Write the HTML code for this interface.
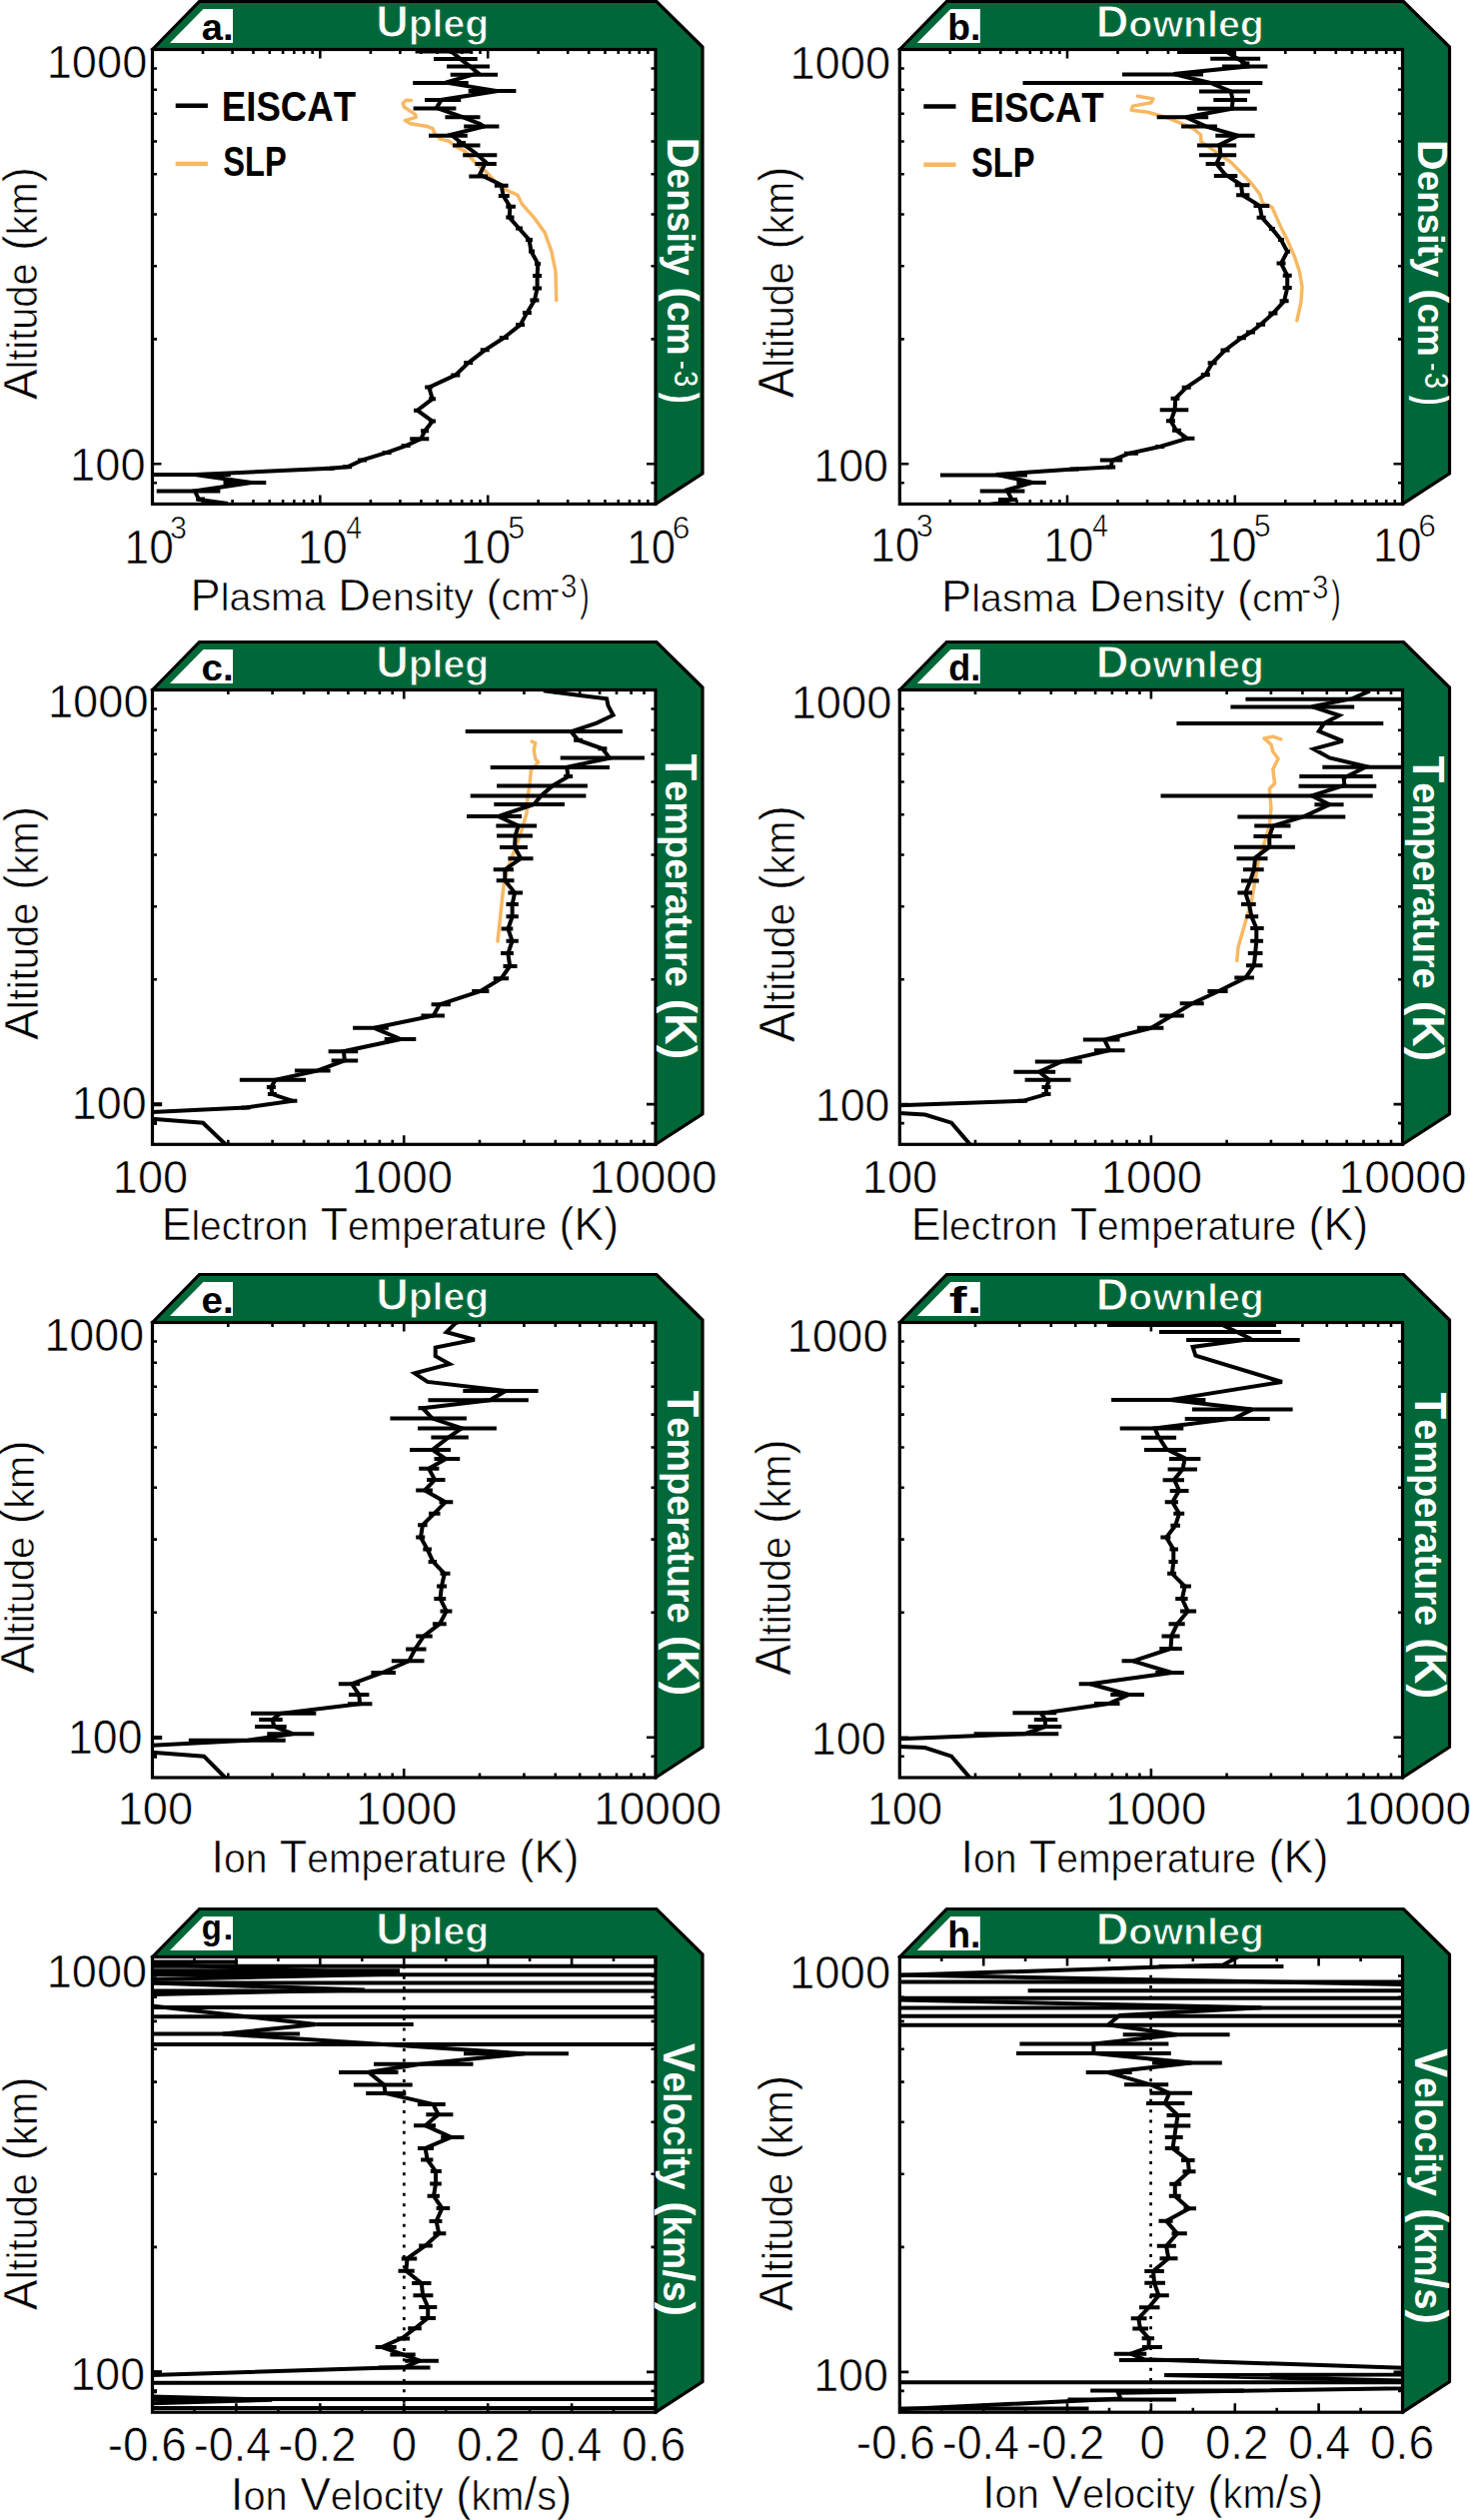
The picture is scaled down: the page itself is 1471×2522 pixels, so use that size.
<!DOCTYPE html>
<html><head><meta charset="utf-8"><style>
html,body{margin:0;padding:0;background:#fff;overflow:hidden;width:1471px;height:2522px;}
svg{display:block;}
text{font-family:"Liberation Sans",sans-serif;font-kerning:none;}
</style></head><body>
<svg width="1471" height="2522" viewBox="0 0 1471 2522">
<rect width="1471" height="2522" fill="#fff"/>
<polygon points="152.5,49.5 199.5,1.5 657.0,1.5 703.0,47.0 703.0,473.9 656.0,504.4" fill="#006838" stroke="#000" stroke-width="3.2" stroke-linejoin="miter"/>
<polygon points="170.0,43.0 203.5,9.0 233.0,9.0 233.0,43.0" fill="#fff"/>
<rect x="152.5" y="49.5" width="503.5" height="454.9" fill="#fff"/>
<polygon points="900.3,49.5 947.3,1.5 1404.5,1.5 1450.5,47.0 1450.5,473.9 1403.5,504.4" fill="#006838" stroke="#000" stroke-width="3.2" stroke-linejoin="miter"/>
<polygon points="917.8,43.0 951.3,9.0 980.8,9.0 980.8,43.0" fill="#fff"/>
<rect x="900.3" y="49.5" width="503.2" height="454.9" fill="#fff"/>
<polygon points="152.5,690.5 199.5,642.5 657.0,642.5 703.0,688.0 703.0,1114.8 656.0,1145.3" fill="#006838" stroke="#000" stroke-width="3.2" stroke-linejoin="miter"/>
<polygon points="170.0,684.0 203.5,650.0 233.0,650.0 233.0,684.0" fill="#fff"/>
<rect x="152.5" y="690.5" width="503.5" height="454.8" fill="#fff"/>
<polygon points="900.3,690.5 947.3,642.5 1404.5,642.5 1450.5,688.0 1450.5,1114.8 1403.5,1145.3" fill="#006838" stroke="#000" stroke-width="3.2" stroke-linejoin="miter"/>
<polygon points="917.8,684.0 951.3,650.0 980.8,650.0 980.8,684.0" fill="#fff"/>
<rect x="900.3" y="690.5" width="503.2" height="454.8" fill="#fff"/>
<polygon points="152.5,1323.5 199.5,1275.5 657.0,1275.5 703.0,1321.0 703.0,1748.5 656.0,1779.0" fill="#006838" stroke="#000" stroke-width="3.2" stroke-linejoin="miter"/>
<polygon points="170.0,1317.0 203.5,1283.0 233.0,1283.0 233.0,1317.0" fill="#fff"/>
<rect x="152.5" y="1323.5" width="503.5" height="455.5" fill="#fff"/>
<polygon points="900.3,1323.5 947.3,1275.5 1404.5,1275.5 1450.5,1321.0 1450.5,1748.5 1403.5,1779.0" fill="#006838" stroke="#000" stroke-width="3.2" stroke-linejoin="miter"/>
<polygon points="917.8,1317.0 951.3,1283.0 980.8,1283.0 980.8,1317.0" fill="#fff"/>
<rect x="900.3" y="1323.5" width="503.2" height="455.5" fill="#fff"/>
<polygon points="152.5,1958.5 199.5,1910.5 657.0,1910.5 703.0,1956.0 703.0,2383.7 656.0,2414.2" fill="#006838" stroke="#000" stroke-width="3.2" stroke-linejoin="miter"/>
<polygon points="170.0,1952.0 203.5,1918.0 233.0,1918.0 233.0,1952.0" fill="#fff"/>
<rect x="152.5" y="1958.5" width="503.5" height="455.7" fill="#fff"/>
<polygon points="900.3,1958.5 947.3,1910.5 1404.5,1910.5 1450.5,1956.0 1450.5,2383.7 1403.5,2414.2" fill="#006838" stroke="#000" stroke-width="3.2" stroke-linejoin="miter"/>
<polygon points="917.8,1952.0 951.3,1918.0 980.8,1918.0 980.8,1952.0" fill="#fff"/>
<rect x="900.3" y="1958.5" width="503.2" height="455.7" fill="#fff"/>
<clipPath id="cp00"><rect x="152.5" y="49.5" width="503.5" height="454.9"/></clipPath>
<g clip-path="url(#cp00)">
<path d="M411.3 100.4L406.4 100.2L403.2 103.2L404.3 107.0L415.7 114.6L416.2 117.3L405.3 120.6L410.8 123.8L427.7 126.6L433.1 128.7L434.7 133.1L440.2 139.1L449.4 141.3L454.3 145.6L465.7 151.6L475.9 163.4L486.1 171.5L493.4 179.5L507.0 190.4L517.9 195.2L522.7 204.7L534.2 217.6L545.1 232.6L551.9 251.6L556.0 272.0L556.7 300.6" stroke="#F7B862" stroke-width="3.5" fill="none" stroke-linejoin="round" stroke-linecap="round"/>
<path d="M457.1 143.0H466.1M533.1 276.1H542.1M533.1 288.4H542.1M530.4 300.6H539.4M522.9 312.9H531.9M516.1 325.1H525.1M499.8 338.0H508.8M480.7 350.3H489.7M464.2 363.1H473.2M451.3 375.4H460.3M401.6 446.1H410.6M382.6 452.9H391.6M358.1 460.4H367.1M343.1 467.2H352.1M325.5 468.8H334.5" stroke="#000" stroke-width="4.0" fill="none"/>
<path d="M415.6 51.5H472.8M434.0 58.9H477.7M447.0 66.4H490.0M450.7 74.8H498.1M413.2 83.0H468.7M468.7 91.1H516.4M425.0 99.9H461.3M413.6 108.5H456.4M445.4 117.2H480.5M464.2 126.6H499.4M429.0 135.8H467.8M453.0 145.5H480.5M463.2 155.2H497.3M475.4 163.9H496.8M469.3 176.6H488.0M494.8 185.8H508.6M498.8 195.9H509.7M506.3 206.7H515.9M506.3 217.6H514.5M516.0 228.5H523.0M526.0 240.0H533.0M529.0 251.6H535.0M535.0 263.9H541.0M425.2 387.6H432.7M429.0 399.2H436.0M414.0 410.7H421.0M429.0 421.6H436.0M421.0 431.2H429.0M410.2 439.3H429.3M153.7 474.9H230.8M223.5 482.9H266.3M156.7 491.4H220.4M196.0 499.5H205.0" stroke="#000" stroke-width="4.0" fill="none"/>
<path d="M453.0 49.5L451.5 51.5L460.5 58.9L470.3 66.4L478.5 73.2L445.8 82.6L498.1 91.1L441.7 99.9L436.8 107.9L462.1 116.8L480.9 124.2L484.1 126.6L451.4 134.8L461.6 143.0L475.9 153.2L486.1 162.3L480.0 174.6L501.6 185.0L503.6 195.9L510.4 206.7L509.7 217.6L519.3 228.5L529.5 240.0L531.5 251.6L538.3 263.9L537.6 276.1L537.6 288.4L534.9 300.6L527.4 312.9L520.6 325.1L504.3 338.0L485.2 350.3L468.7 363.1L455.8 375.4L429.3 387.6L432.7 399.2L417.7 410.7L432.7 421.6L425.2 431.2L421.1 439.3L406.1 446.1L387.1 452.9L362.6 460.4L347.6 467.2L330.0 468.8L195.0 474.9L251.6 482.9L195.0 491.4L199.0 500.0L228.0 504.0" stroke="#000" stroke-width="4.0" fill="none" stroke-linejoin="miter" stroke-miterlimit="3"/>
</g>
<clipPath id="cp10"><rect x="900.3" y="49.5" width="503.2" height="454.9"/></clipPath>
<g clip-path="url(#cp10)">
<path d="M1138.4 96.2L1154.0 98.9L1152.0 102.7L1133.6 106.1L1132.2 110.2L1148.6 112.2L1167.6 117.7L1181.2 123.1L1194.8 129.2L1201.6 135.0L1202.0 141.9L1211.2 148.1L1231.6 162.3L1246.9 177.7L1253.5 185.0L1260.6 194.2L1263.7 203.4L1272.9 207.4L1282.0 227.9L1288.2 240.1L1295.3 256.4L1300.4 271.7L1303.0 287.0L1301.9 302.3L1297.9 320.7" stroke="#F7B862" stroke-width="3.5" fill="none" stroke-linejoin="round" stroke-linecap="round"/>
<path d="M1241.4 63.4H1250.4M1277.5 263.6H1286.5M1283.7 275.8H1292.7M1283.7 288.1H1292.7M1280.6 301.3H1289.6M1269.4 313.6H1278.4M1257.1 324.8H1266.1M1247.0 332.5H1256.0M1237.8 338.2H1246.8M1221.5 350.4H1230.5M1208.6 363.3H1217.6M1201.8 374.9H1210.8M1182.7 387.8H1191.7M1156.2 447.0H1165.2M1107.2 467.4H1116.2M1070.5 469.4H1079.5" stroke="#000" stroke-width="4.0" fill="none"/>
<path d="M1178.0 52.0H1235.0M1211.2 58.8H1261.2M1223.0 66.6H1268.4M1123.0 74.5H1204.1M1023.5 83.1H1263.3M1200.0 91.4H1251.0M1214.3 100.1H1248.0M1198.0 108.8H1257.7M1157.7 117.2H1209.2M1182.1 126.6H1217.9M1216.3 135.8H1255.6M1198.0 145.5H1237.2M1200.0 155.2H1237.2M1206.6 163.9H1225.5M1214.8 176.1H1238.3M1235.7 185.3H1250.5M1237.1 195.2H1250.4M1254.5 205.9H1270.3M1257.6 217.7H1266.7M1270.0 228.9H1276.0M1279.0 240.1H1285.0M1286.0 251.8H1291.0M1171.6 398.7H1180.4M1160.7 410.3H1189.3M1167.0 421.2H1176.0M1173.0 430.7H1182.0M1182.4 438.8H1195.4M1125.0 453.8H1139.0M1100.8 460.6H1123.3M940.9 475.5H1027.9M1017.4 482.9H1046.8M980.7 491.4H1025.4M999.0 500.0H1018.0" stroke="#000" stroke-width="4.0" fill="none"/>
<path d="M1225.0 49.5L1225.5 50.6L1245.9 63.4L1248.0 66.6L1174.5 74.1L1211.2 83.0L1231.6 91.4L1233.7 100.1L1232.7 108.8L1186.7 117.2L1207.1 126.6L1238.8 135.8L1220.4 144.9L1221.4 155.2L1217.3 163.9L1225.5 174.1L1242.0 185.0L1243.3 195.2L1260.6 205.9L1262.7 217.7L1272.9 228.9L1282.0 240.1L1288.2 251.8L1282.0 263.6L1288.2 275.8L1288.2 288.1L1285.1 301.3L1273.9 313.6L1261.6 324.8L1251.5 332.5L1242.3 338.2L1226.0 350.4L1213.1 363.3L1206.3 374.9L1187.2 387.8L1176.3 398.7L1175.6 410.3L1171.6 421.2L1177.0 430.7L1187.9 438.8L1160.7 447.0L1129.4 453.8L1113.1 460.6L1111.7 467.4L1075.0 469.4L996.6 474.9L1033.4 482.9L1007.6 490.2L1012.5 500.0L999.0 503.7L990.0 505.0" stroke="#000" stroke-width="4.0" fill="none" stroke-linejoin="miter" stroke-miterlimit="3"/>
</g>
<clipPath id="cp01"><rect x="152.5" y="690.5" width="503.5" height="454.8"/></clipPath>
<g clip-path="url(#cp01)">
<path d="M532.1 742.1L535.7 743.6L534.3 750.7L535.7 759.3L538.6 762.9L531.4 770.7L530.0 785.0L527.9 799.3L527.1 813.6L522.9 827.9L519.0 840.0L515.0 851.0L512.0 858.0L507.0 872.0L504.0 886.0L498.0 942.0" stroke="#F7B862" stroke-width="3.5" fill="none" stroke-linejoin="round" stroke-linecap="round"/>
<path d="M574.1 740.7H583.1M598.4 749.3H607.4M564.1 777.1H573.1M266.9 1088.0H275.9M267.9 1095.1H276.9M288.4 1101.8H297.4M241.4 1108.4H250.4" stroke="#000" stroke-width="4.0" fill="none"/>
<path d="M465.7 732.1H622.9M560.7 758.6H645.0M490.7 767.9H610.0M497.1 786.4H587.9M470.7 796.4H586.4M494.3 805.0H565.0M467.1 817.1H522.1M496.4 826.4H537.1M497.1 836.4H532.9M500.0 847.9H527.9M508.4 859.2H533.5M493.7 870.2H513.9M496.7 881.2H514.5M508.4 893.5H523.1M506.5 905.1H518.8M506.5 917.3H518.8M501.6 929.6H513.3M506.5 941.8H518.8M501.0 954.1H513.9M503.5 966.9H517.5M493.7 979.2H509.0M472.2 992.0H489.4M431.6 1005.3H450.8M421.4 1016.5H444.9M353.1 1028.8H388.8M384.7 1040.0H416.3M328.6 1052.2H358.2M331.6 1061.4H358.2M294.9 1071.6H330.6M239.8 1080.8H306.1M150.0 1105.3H162.2M150.0 1123.7H157.0" stroke="#000" stroke-width="4.0" fill="none"/>
<path d="M545.7 690.5L545.7 691.4L578.6 695.7L607.1 699.3L608.6 706.4L613.6 715.7L597.1 723.6L571.4 732.1L578.6 740.7L602.9 749.3L610.0 758.6L567.1 767.9L568.6 777.1L552.9 786.4L541.4 796.4L534.3 805.0L498.6 817.1L518.6 826.4L515.7 836.4L515.0 847.9L521.2 859.2L505.3 870.2L505.3 881.2L515.1 893.5L512.6 905.1L512.6 917.3L508.4 929.6L512.6 941.8L508.4 954.1L510.2 966.9L501.6 979.2L480.8 992.0L439.8 1005.3L433.7 1016.5L374.5 1028.8L401.0 1040.0L343.9 1052.2L344.9 1061.4L317.3 1071.6L275.5 1080.8L271.4 1088.0L272.4 1095.1L292.9 1101.8L245.9 1108.4L130.0 1114.0L130.0 1118.0L203.1 1123.7L225.5 1145.1L228.0 1148.0" stroke="#000" stroke-width="4.0" fill="none" stroke-linejoin="miter" stroke-miterlimit="3"/>
</g>
<clipPath id="cp11"><rect x="900.3" y="690.5" width="503.2" height="454.8"/></clipPath>
<g clip-path="url(#cp11)">
<path d="M1281.8 739.8L1273.8 737.2L1265.0 738.9L1272.0 745.1L1273.8 752.2L1279.1 759.3L1273.8 769.9L1275.6 784.0L1270.3 789.4L1272.0 808.8L1270.3 826.5L1265.0 844.2L1259.5 858.0L1259.2 862.2L1256.1 880.6L1252.4 901.4L1247.5 918.6L1242.6 935.7L1239.0 948.0L1237.8 961.4" stroke="#F7B862" stroke-width="3.5" fill="none" stroke-linejoin="round" stroke-linecap="round"/>
<path d="M1042.5 1088.0H1051.5M1042.5 1095.1H1051.5M1019.1 1101.8H1028.1" stroke="#000" stroke-width="4.0" fill="none"/>
<path d="M1246.4 699.7H1402.9M1231.4 707.6H1355.2M1177.4 723.9H1384.3M1323.3 767.8H1402.9M1300.3 777.0H1373.7M1299.5 786.7H1377.3M1161.5 796.4H1373.7M1315.4 805.3H1344.6M1238.4 817.6H1346.3M1255.2 826.5H1291.5M1254.4 837.1H1282.7M1234.9 847.7H1295.9M1237.5 859.2H1268.5M1243.9 870.2H1264.7M1242.0 881.6H1259.8M1238.4 893.5H1253.1M1242.0 905.1H1256.7M1246.3 917.3H1259.2M1251.2 929.0H1264.7M1251.2 941.8H1264.1M1248.8 954.1H1263.5M1246.9 966.3H1263.5M1235.3 978.6H1254.9M1208.4 992.0H1228.6M1180.7 1004.3H1204.7M1160.3 1016.5H1184.8M1137.9 1028.8H1164.4M1083.8 1040.6H1120.5M1095.0 1051.2H1125.6M1035.8 1062.4H1082.8M1014.4 1072.7H1056.2M1025.6 1080.8H1071.5" stroke="#000" stroke-width="4.0" fill="none"/>
<path d="M1369.3 690.5L1369.3 692.1L1353.4 699.1L1312.7 707.1L1340.1 716.0L1325.1 723.9L1319.8 731.9L1343.7 741.6L1314.5 749.6L1330.4 758.4L1367.5 767.2L1344.6 778.7L1345.4 785.8L1312.7 796.4L1330.4 805.3L1305.6 816.8L1273.8 826.5L1270.3 837.1L1270.3 847.7L1256.1 858.3L1254.9 870.2L1251.2 881.6L1246.3 893.5L1250.0 905.1L1252.4 917.3L1257.3 929.0L1257.3 941.8L1256.1 954.1L1254.9 966.3L1246.3 978.6L1219.4 992.0L1193.0 1004.3L1172.6 1016.5L1152.1 1028.8L1105.2 1040.6L1110.3 1051.2L1062.3 1062.4L1039.9 1072.7L1050.1 1080.8L1047.0 1088.0L1047.0 1095.1L1023.6 1101.8L880.0 1107.0L880.0 1113.0L925.6 1115.5L952.1 1123.7L970.5 1145.1L973.0 1148.0" stroke="#000" stroke-width="4.0" fill="none" stroke-linejoin="miter" stroke-miterlimit="3"/>
</g>
<clipPath id="cp02"><rect x="152.5" y="1323.5" width="503.5" height="455.5"/></clipPath>
<g clip-path="url(#cp02)">
<path d="M418.4 1409.2H427.4M267.9 1738.3H276.9" stroke="#000" stroke-width="4.0" fill="none"/>
<path d="M463.3 1392.1H538.6M428.4 1401.3H528.8M390.4 1419.6H466.9M418.0 1429.4H496.9M431.4 1438.6H468.8M410.0 1450.9H451.0M434.5 1460.0H460.2M419.2 1469.8H439.4M427.1 1480.9H445.5M416.2 1491.6H432.9M439.5 1503.3H453.3M429.0 1514.8H440.5M418.1 1526.2H427.6M416.2 1538.6H425.2M423.3 1550.5H431.9M428.6 1562.9H437.1M440.5 1574.8H450.5M437.1 1587.6H447.1M434.3 1600.0H446.2M440.5 1612.4H452.4M432.9 1625.2H446.7M416.2 1637.4H432.7M406.1 1650.5H426.5M391.8 1662.3H424.5M371.4 1674.0H395.9M338.8 1685.2H360.2M349.0 1696.0H369.4M348.0 1705.2H372.4M251.0 1714.8H316.3M259.2 1720.9H282.7M255.1 1728.1H286.7M267.3 1735.2H314.3M188.8 1741.7H285.7M150.0 1738.9H162.2M150.0 1757.7H157.0" stroke="#000" stroke-width="4.0" fill="none"/>
<path d="M458.0 1323.5L455.9 1324.1L446.7 1333.3L474.9 1340.7L435.7 1348.6L435.7 1357.2L449.8 1365.1L414.9 1374.3L427.8 1382.9L506.1 1392.1L490.2 1401.3L422.9 1409.2L432.7 1419.6L462.0 1429.4L448.6 1438.6L432.7 1450.9L446.1 1460.0L429.0 1469.8L435.1 1480.9L425.0 1491.6L445.7 1503.3L434.3 1514.8L422.9 1526.2L421.0 1538.6L427.6 1550.5L433.3 1562.9L444.8 1574.8L441.9 1587.6L440.5 1600.0L446.7 1612.4L440.0 1625.2L424.0 1637.4L415.3 1650.5L409.2 1662.3L382.7 1674.0L352.0 1685.2L359.2 1696.0L360.2 1705.2L280.6 1714.8L272.4 1720.9L274.5 1728.1L292.9 1735.2L272.4 1738.3L248.0 1741.7L130.0 1748.0L130.0 1752.0L204.1 1757.7L225.5 1779.1L228.0 1782.0" stroke="#000" stroke-width="4.0" fill="none" stroke-linejoin="miter" stroke-miterlimit="3"/>
</g>
<clipPath id="cp12"><rect x="900.3" y="1323.5" width="503.2" height="455.5"/></clipPath>
<g clip-path="url(#cp12)">
<path d="M1108.0 1326.0H1277.0M1160.0 1333.0H1282.1M1187.1 1340.9H1300.7M1112.1 1400.9H1206.4M1192.9 1410.6H1293.6M1185.7 1419.9H1270.7M1120.7 1429.4H1184.3M1142.1 1438.7H1177.1M1145.0 1450.9H1187.1M1170.0 1459.9H1201.4M1168.6 1470.6H1197.9M1163.6 1481.3H1185.0M1170.7 1491.9H1189.5M1165.7 1503.3H1179.0M1174.3 1514.8H1185.2M1171.4 1526.7H1181.0M1161.4 1538.6H1171.4M1170.5 1550.5H1179.0M1169.5 1562.9H1178.6M1168.1 1574.8H1177.1M1181.0 1587.6H1191.9M1176.2 1600.0H1188.6M1181.0 1612.4H1197.1M1169.5 1625.2H1185.7M1162.5 1637.4H1180.6M1160.3 1649.9H1182.8M1122.6 1662.3H1140.9M1156.2 1674.0H1184.8M1079.7 1685.2H1099.1M1111.3 1696.0H1145.0M1095.0 1705.0H1120.5M1013.4 1714.2H1057.2M1034.8 1720.9H1058.3M1028.7 1728.1H1062.3M974.6 1735.2H1059.3" stroke="#000" stroke-width="4.0" fill="none"/>
<path d="M1224.3 1323.5L1224.3 1326.6L1252.0 1340.0L1193.6 1348.0L1196.4 1356.6L1282.9 1383.0L1171.4 1400.9L1252.9 1410.6L1235.7 1419.4L1155.7 1429.4L1158.6 1436.6L1167.1 1450.1L1185.7 1459.4L1183.6 1470.1L1175.0 1480.9L1180.0 1491.6L1173.3 1503.3L1180.0 1514.8L1176.2 1526.7L1167.1 1538.6L1174.3 1550.5L1174.3 1562.9L1172.9 1574.8L1185.7 1587.6L1182.9 1600.0L1188.6 1612.4L1178.1 1625.2L1172.4 1637.1L1171.5 1649.9L1133.8 1662.3L1172.6 1674.0L1090.9 1685.2L1129.7 1696.0L1109.3 1705.0L1041.9 1714.8L1046.0 1720.9L1046.0 1728.1L1025.6 1735.2L880.0 1741.0L880.0 1747.0L925.6 1749.1L952.1 1757.7L970.5 1779.1L973.0 1782.0" stroke="#000" stroke-width="4.0" fill="none" stroke-linejoin="miter" stroke-miterlimit="3"/>
</g>
<clipPath id="cp03"><rect x="152.5" y="1958.5" width="503.5" height="455.7"/></clipPath>
<g clip-path="url(#cp03)">
<path d="M404.3 1967.36V2414.2" stroke="#000" stroke-width="2.8" stroke-dasharray="3 7.34" fill="none"/>
<path d="M140.0 1963.6H238.0M140.0 1972.2H400.0M140.0 1967.7H670.0M140.0 1976.2H670.0M140.0 1984.5H670.0M140.0 1992.4H670.0M140.0 2009.0H670.0M140.0 2018.2H670.0M140.0 2046.0H670.0M140.0 2384.7H670.0M140.0 2401.0H670.0M140.0 2410.0H670.0M316.5 2026.1H413.7M140.0 2035.5H300.0M464.0 2055.3H568.9M374.0 2065.8H473.5M339.0 2073.9H398.5M353.9 2086.5H412.7M366.2 2094.9H406.3M417.9 2105.9H445.7M426.3 2116.3H453.4M414.0 2127.2H436.0M441.2 2138.9H464.4M417.9 2149.9H434.0M421.1 2161.5H433.4M430.8 2173.1H441.8M430.2 2185.4H441.8M427.6 2197.8H439.9M436.6 2210.0H450.2M429.5 2223.0H442.4M433.4 2235.2H446.3M419.2 2247.5H432.8M401.7 2260.4H417.2M398.5 2272.7H414.7M412.1 2285.0H431.5M413.4 2297.3H433.4M419.2 2308.9H437.3M420.5 2319.9H436.0M408.2 2330.2H421.8M397.2 2340.6H410.1M375.6 2349.0H396.7M390.4 2356.4H415.7M405.2 2362.7H438.9M378.8 2369.5H430.5M140.0 2374.3H162.0M140.0 2393.3H157.0" stroke="#000" stroke-width="4.0" fill="none"/>
<path d="M100.0 1963.3L393.0 1975.8L100.0 1982.1L100.0 1982.9L365.0 1991.4L100.0 1997.1L100.0 2001.6L165.0 2009.0L247.0 2018.2L316.5 2026.1L222.9 2035.5L525.0 2055.3L420.5 2065.8L368.8 2073.9L384.3 2086.5L385.6 2094.9L433.4 2105.9L438.6 2116.3L425.6 2127.2L451.5 2138.9L425.6 2149.9L427.6 2161.5L436.0 2173.1L436.0 2185.4L434.0 2197.8L442.4 2210.0L436.6 2223.0L439.2 2235.2L425.6 2247.5L407.5 2260.4L406.3 2272.7L421.8 2285.0L423.1 2297.3L428.2 2308.9L428.2 2319.9L415.3 2330.2L403.1 2339.5L382.0 2349.0L403.1 2356.4L419.9 2362.7L405.2 2369.0L60.0 2380.0L60.0 2396.0L272.3 2401.7L60.0 2408.0L60.0 2415.0" stroke="#000" stroke-width="4.0" fill="none" stroke-linejoin="miter" stroke-miterlimit="3"/>
</g>
<clipPath id="cp13"><rect x="900.3" y="1958.5" width="503.2" height="455.7"/></clipPath>
<g clip-path="url(#cp13)">
<path d="M1151.6 1966.44V2414.2" stroke="#000" stroke-width="2.8" stroke-dasharray="3 7.34" fill="none"/>
<path d="M1159.5 1968.0H1284.4M880.0 1983.6H1420.0M1028.6 1992.3H1420.0M880.0 1999.8H1420.0M880.0 2009.5H1420.0M880.0 2017.8H1420.0M880.0 2026.7H1420.0M1123.7 2036.2H1230.6M1020.4 2045.5H1169.4M1017.0 2054.9H1171.8M1153.0 2064.6H1222.8M1086.7 2074.1H1132.7M1125.0 2086.3H1169.2M1150.5 2094.8H1193.0M1147.1 2105.0H1185.4M1167.5 2116.9H1191.3M1165.0 2127.5H1191.3M1165.8 2139.0H1183.7M1165.8 2150.1H1180.3M1182.0 2162.0H1195.6M1183.4 2173.3H1196.5M1170.3 2185.8H1182.3M1169.8 2197.8H1181.8M1184.5 2210.3H1197.0M1159.5 2222.8H1173.6M1172.5 2235.3H1187.8M1157.8 2247.8H1176.9M1160.5 2260.3H1178.5M1145.3 2272.9H1164.9M1145.3 2284.8H1166.0M1150.7 2297.3H1169.8M1139.9 2309.3H1160.5M1131.7 2320.2H1147.5M1133.3 2330.5H1149.1M1142.6 2340.3H1155.1M1142.9 2349.0H1163.0M1114.8 2355.7H1147.3M1120.0 2362.0H1200.0M1165.3 2377.0H1240.0M880.0 2384.3H1420.0M1091.2 2392.6H1245.0M1068.4 2401.5H1177.0M880.0 2410.5H1089.5" stroke="#000" stroke-width="4.0" fill="none"/>
<path d="M880.0 1976.2L1420.0 1986.4" stroke="#000" stroke-width="4.0" fill="none" stroke-linejoin="miter" stroke-miterlimit="3"/>
<path d="M1245.0 1955.0L1224.0 1966.5L880.0 1977.5L880.0 1985.0L850.0 2000.5L1262.4 2009.3L1120.4 2016.9L1109.0 2026.3L1177.6 2036.2L1094.4 2045.5L1094.4 2054.9L1192.2 2064.6L1108.8 2074.1L1151.4 2086.3L1170.1 2094.8L1165.8 2105.0L1178.6 2116.9L1176.9 2127.5L1175.2 2139.0L1173.5 2150.1L1188.8 2162.0L1189.9 2173.3L1175.8 2185.8L1175.8 2197.8L1189.9 2210.3L1167.1 2222.8L1178.0 2235.3L1167.1 2247.8L1169.3 2260.3L1154.0 2272.9L1155.1 2284.8L1159.5 2297.3L1149.7 2309.3L1139.3 2320.2L1141.0 2330.5L1149.7 2340.3L1149.6 2349.0L1131.6 2355.7L1145.1 2361.3L1600.0 2376.0L1165.3 2377.0L1600.0 2387.0L1119.0 2394.8L1121.5 2400.6L700.0 2421.0" stroke="#000" stroke-width="4.0" fill="none" stroke-linejoin="miter" stroke-miterlimit="3"/>
</g>
<path d="M152.5 483.2L157.0 483.2M656.0 483.2L651.5 483.2M152.5 464.2L161.5 464.2M656.0 464.2L647.0 464.2M152.5 339.4L157.0 339.4M656.0 339.4L651.5 339.4M152.5 266.3L157.0 266.3M656.0 266.3L651.5 266.3M152.5 214.5L157.0 214.5M656.0 214.5L651.5 214.5M152.5 174.3L157.0 174.3M656.0 174.3L651.5 174.3M152.5 141.5L157.0 141.5M656.0 141.5L651.5 141.5M152.5 113.7L157.0 113.7M656.0 113.7L651.5 113.7M152.5 89.7L157.0 89.7M656.0 89.7L651.5 89.7M152.5 68.5L157.0 68.5M656.0 68.5L651.5 68.5M203.0 504.4L203.0 499.9M203.0 49.5L203.0 54.0M232.6 504.4L232.6 499.9M232.6 49.5L232.6 54.0M253.5 504.4L253.5 499.9M253.5 49.5L253.5 54.0M269.8 504.4L269.8 499.9M269.8 49.5L269.8 54.0M283.1 504.4L283.1 499.9M283.1 49.5L283.1 54.0M294.3 504.4L294.3 499.9M294.3 49.5L294.3 54.0M304.1 504.4L304.1 499.9M304.1 49.5L304.1 54.0M312.7 504.4L312.7 499.9M312.7 49.5L312.7 54.0M320.3 504.4L320.3 495.4M320.3 49.5L320.3 58.5M370.9 504.4L370.9 499.9M370.9 49.5L370.9 54.0M400.4 504.4L400.4 499.9M400.4 49.5L400.4 54.0M421.4 504.4L421.4 499.9M421.4 49.5L421.4 54.0M437.6 504.4L437.6 499.9M437.6 49.5L437.6 54.0M450.9 504.4L450.9 499.9M450.9 49.5L450.9 54.0M462.2 504.4L462.2 499.9M462.2 49.5L462.2 54.0M471.9 504.4L471.9 499.9M471.9 49.5L471.9 54.0M480.5 504.4L480.5 499.9M480.5 49.5L480.5 54.0M488.2 504.4L488.2 495.4M488.2 49.5L488.2 58.5M538.7 504.4L538.7 499.9M538.7 49.5L538.7 54.0M568.2 504.4L568.2 499.9M568.2 49.5L568.2 54.0M589.2 504.4L589.2 499.9M589.2 49.5L589.2 54.0M605.5 504.4L605.5 499.9M605.5 49.5L605.5 54.0M618.8 504.4L618.8 499.9M618.8 49.5L618.8 54.0M630.0 504.4L630.0 499.9M630.0 49.5L630.0 54.0M639.7 504.4L639.7 499.9M639.7 49.5L639.7 54.0M648.3 504.4L648.3 499.9M648.3 49.5L648.3 54.0" stroke="#000" stroke-width="2.6" fill="none"/>
<rect x="152.5" y="49.5" width="503.5" height="454.9" fill="none" stroke="#000" stroke-width="3.2"/>
<path d="M900.3 483.2L904.8 483.2M1403.5 483.2L1399.0 483.2M900.3 464.2L909.3 464.2M1403.5 464.2L1394.5 464.2M900.3 339.4L904.8 339.4M1403.5 339.4L1399.0 339.4M900.3 266.3L904.8 266.3M1403.5 266.3L1399.0 266.3M900.3 214.5L904.8 214.5M1403.5 214.5L1399.0 214.5M900.3 174.3L904.8 174.3M1403.5 174.3L1399.0 174.3M900.3 141.5L904.8 141.5M1403.5 141.5L1399.0 141.5M900.3 113.7L904.8 113.7M1403.5 113.7L1399.0 113.7M900.3 89.7L904.8 89.7M1403.5 89.7L1399.0 89.7M900.3 68.5L904.8 68.5M1403.5 68.5L1399.0 68.5M950.8 504.4L950.8 499.9M950.8 49.5L950.8 54.0M980.3 504.4L980.3 499.9M980.3 49.5L980.3 54.0M1001.3 504.4L1001.3 499.9M1001.3 49.5L1001.3 54.0M1017.5 504.4L1017.5 499.9M1017.5 49.5L1017.5 54.0M1030.8 504.4L1030.8 499.9M1030.8 49.5L1030.8 54.0M1042.1 504.4L1042.1 499.9M1042.1 49.5L1042.1 54.0M1051.8 504.4L1051.8 499.9M1051.8 49.5L1051.8 54.0M1060.4 504.4L1060.4 499.9M1060.4 49.5L1060.4 54.0M1068.0 504.4L1068.0 495.4M1068.0 49.5L1068.0 58.5M1118.5 504.4L1118.5 499.9M1118.5 49.5L1118.5 54.0M1148.1 504.4L1148.1 499.9M1148.1 49.5L1148.1 54.0M1169.0 504.4L1169.0 499.9M1169.0 49.5L1169.0 54.0M1185.3 504.4L1185.3 499.9M1185.3 49.5L1185.3 54.0M1198.6 504.4L1198.6 499.9M1198.6 49.5L1198.6 54.0M1209.8 504.4L1209.8 499.9M1209.8 49.5L1209.8 54.0M1219.5 504.4L1219.5 499.9M1219.5 49.5L1219.5 54.0M1228.1 504.4L1228.1 499.9M1228.1 49.5L1228.1 54.0M1235.8 504.4L1235.8 495.4M1235.8 49.5L1235.8 58.5M1286.3 504.4L1286.3 499.9M1286.3 49.5L1286.3 54.0M1315.8 504.4L1315.8 499.9M1315.8 49.5L1315.8 54.0M1336.8 504.4L1336.8 499.9M1336.8 49.5L1336.8 54.0M1353.0 504.4L1353.0 499.9M1353.0 49.5L1353.0 54.0M1366.3 504.4L1366.3 499.9M1366.3 49.5L1366.3 54.0M1377.5 504.4L1377.5 499.9M1377.5 49.5L1377.5 54.0M1387.2 504.4L1387.2 499.9M1387.2 49.5L1387.2 54.0M1395.8 504.4L1395.8 499.9M1395.8 49.5L1395.8 54.0" stroke="#000" stroke-width="2.6" fill="none"/>
<rect x="900.3" y="49.5" width="503.2" height="454.9" fill="none" stroke="#000" stroke-width="3.2"/>
<path d="M152.5 1124.1L157.0 1124.1M656.0 1124.1L651.5 1124.1M152.5 1105.1L161.5 1105.1M656.0 1105.1L647.0 1105.1M152.5 980.3L157.0 980.3M656.0 980.3L651.5 980.3M152.5 907.3L157.0 907.3M656.0 907.3L651.5 907.3M152.5 855.5L157.0 855.5M656.0 855.5L651.5 855.5M152.5 815.3L157.0 815.3M656.0 815.3L651.5 815.3M152.5 782.5L157.0 782.5M656.0 782.5L651.5 782.5M152.5 754.7L157.0 754.7M656.0 754.7L651.5 754.7M152.5 730.7L157.0 730.7M656.0 730.7L651.5 730.7M152.5 709.5L157.0 709.5M656.0 709.5L651.5 709.5M228.3 1145.3L228.3 1140.8M228.3 690.5L228.3 695.0M272.6 1145.3L272.6 1140.8M272.6 690.5L272.6 695.0M304.1 1145.3L304.1 1140.8M304.1 690.5L304.1 695.0M328.5 1145.3L328.5 1140.8M328.5 690.5L328.5 695.0M348.4 1145.3L348.4 1140.8M348.4 690.5L348.4 695.0M365.3 1145.3L365.3 1140.8M365.3 690.5L365.3 695.0M379.9 1145.3L379.9 1140.8M379.9 690.5L379.9 695.0M392.7 1145.3L392.7 1140.8M392.7 690.5L392.7 695.0M404.2 1145.3L404.2 1136.3M404.2 690.5L404.2 699.5M480.0 1145.3L480.0 1140.8M480.0 690.5L480.0 695.0M524.4 1145.3L524.4 1140.8M524.4 690.5L524.4 695.0M555.8 1145.3L555.8 1140.8M555.8 690.5L555.8 695.0M580.2 1145.3L580.2 1140.8M580.2 690.5L580.2 695.0M600.1 1145.3L600.1 1140.8M600.1 690.5L600.1 695.0M617.0 1145.3L617.0 1140.8M617.0 690.5L617.0 695.0M631.6 1145.3L631.6 1140.8M631.6 690.5L631.6 695.0M644.5 1145.3L644.5 1140.8M644.5 690.5L644.5 695.0" stroke="#000" stroke-width="2.6" fill="none"/>
<rect x="152.5" y="690.5" width="503.5" height="454.8" fill="none" stroke="#000" stroke-width="3.2"/>
<path d="M900.3 1124.1L904.8 1124.1M1403.5 1124.1L1399.0 1124.1M900.3 1105.1L909.3 1105.1M1403.5 1105.1L1394.5 1105.1M900.3 980.3L904.8 980.3M1403.5 980.3L1399.0 980.3M900.3 907.3L904.8 907.3M1403.5 907.3L1399.0 907.3M900.3 855.5L904.8 855.5M1403.5 855.5L1399.0 855.5M900.3 815.3L904.8 815.3M1403.5 815.3L1399.0 815.3M900.3 782.5L904.8 782.5M1403.5 782.5L1399.0 782.5M900.3 754.7L904.8 754.7M1403.5 754.7L1399.0 754.7M900.3 730.7L904.8 730.7M1403.5 730.7L1399.0 730.7M900.3 709.5L904.8 709.5M1403.5 709.5L1399.0 709.5M976.0 1145.3L976.0 1140.8M976.0 690.5L976.0 695.0M1020.3 1145.3L1020.3 1140.8M1020.3 690.5L1020.3 695.0M1051.8 1145.3L1051.8 1140.8M1051.8 690.5L1051.8 695.0M1076.2 1145.3L1076.2 1140.8M1076.2 690.5L1076.2 695.0M1096.1 1145.3L1096.1 1140.8M1096.1 690.5L1096.1 695.0M1112.9 1145.3L1112.9 1140.8M1112.9 690.5L1112.9 695.0M1127.5 1145.3L1127.5 1140.8M1127.5 690.5L1127.5 695.0M1140.4 1145.3L1140.4 1140.8M1140.4 690.5L1140.4 695.0M1151.9 1145.3L1151.9 1136.3M1151.9 690.5L1151.9 699.5M1227.6 1145.3L1227.6 1140.8M1227.6 690.5L1227.6 695.0M1271.9 1145.3L1271.9 1140.8M1271.9 690.5L1271.9 695.0M1303.4 1145.3L1303.4 1140.8M1303.4 690.5L1303.4 695.0M1327.8 1145.3L1327.8 1140.8M1327.8 690.5L1327.8 695.0M1347.7 1145.3L1347.7 1140.8M1347.7 690.5L1347.7 695.0M1364.5 1145.3L1364.5 1140.8M1364.5 690.5L1364.5 695.0M1379.1 1145.3L1379.1 1140.8M1379.1 690.5L1379.1 695.0M1392.0 1145.3L1392.0 1140.8M1392.0 690.5L1392.0 695.0" stroke="#000" stroke-width="2.6" fill="none"/>
<rect x="900.3" y="690.5" width="503.2" height="454.8" fill="none" stroke="#000" stroke-width="3.2"/>
<path d="M152.5 1757.8L157.0 1757.8M656.0 1757.8L651.5 1757.8M152.5 1738.8L161.5 1738.8M656.0 1738.8L647.0 1738.8M152.5 1613.8L157.0 1613.8M656.0 1613.8L651.5 1613.8M152.5 1540.6L157.0 1540.6M656.0 1540.6L651.5 1540.6M152.5 1488.7L157.0 1488.7M656.0 1488.7L651.5 1488.7M152.5 1448.5L157.0 1448.5M656.0 1448.5L651.5 1448.5M152.5 1415.6L157.0 1415.6M656.0 1415.6L651.5 1415.6M152.5 1387.8L157.0 1387.8M656.0 1387.8L651.5 1387.8M152.5 1363.7L157.0 1363.7M656.0 1363.7L651.5 1363.7M152.5 1342.5L157.0 1342.5M656.0 1342.5L651.5 1342.5M228.3 1779.0L228.3 1774.5M228.3 1323.5L228.3 1328.0M272.6 1779.0L272.6 1774.5M272.6 1323.5L272.6 1328.0M304.1 1779.0L304.1 1774.5M304.1 1323.5L304.1 1328.0M328.5 1779.0L328.5 1774.5M328.5 1323.5L328.5 1328.0M348.4 1779.0L348.4 1774.5M348.4 1323.5L348.4 1328.0M365.3 1779.0L365.3 1774.5M365.3 1323.5L365.3 1328.0M379.9 1779.0L379.9 1774.5M379.9 1323.5L379.9 1328.0M392.7 1779.0L392.7 1774.5M392.7 1323.5L392.7 1328.0M404.2 1779.0L404.2 1770.0M404.2 1323.5L404.2 1332.5M480.0 1779.0L480.0 1774.5M480.0 1323.5L480.0 1328.0M524.4 1779.0L524.4 1774.5M524.4 1323.5L524.4 1328.0M555.8 1779.0L555.8 1774.5M555.8 1323.5L555.8 1328.0M580.2 1779.0L580.2 1774.5M580.2 1323.5L580.2 1328.0M600.1 1779.0L600.1 1774.5M600.1 1323.5L600.1 1328.0M617.0 1779.0L617.0 1774.5M617.0 1323.5L617.0 1328.0M631.6 1779.0L631.6 1774.5M631.6 1323.5L631.6 1328.0M644.5 1779.0L644.5 1774.5M644.5 1323.5L644.5 1328.0" stroke="#000" stroke-width="2.6" fill="none"/>
<rect x="152.5" y="1323.5" width="503.5" height="455.5" fill="none" stroke="#000" stroke-width="3.2"/>
<path d="M900.3 1757.8L904.8 1757.8M1403.5 1757.8L1399.0 1757.8M900.3 1738.8L909.3 1738.8M1403.5 1738.8L1394.5 1738.8M900.3 1613.8L904.8 1613.8M1403.5 1613.8L1399.0 1613.8M900.3 1540.6L904.8 1540.6M1403.5 1540.6L1399.0 1540.6M900.3 1488.7L904.8 1488.7M1403.5 1488.7L1399.0 1488.7M900.3 1448.5L904.8 1448.5M1403.5 1448.5L1399.0 1448.5M900.3 1415.6L904.8 1415.6M1403.5 1415.6L1399.0 1415.6M900.3 1387.8L904.8 1387.8M1403.5 1387.8L1399.0 1387.8M900.3 1363.7L904.8 1363.7M1403.5 1363.7L1399.0 1363.7M900.3 1342.5L904.8 1342.5M1403.5 1342.5L1399.0 1342.5M976.0 1779.0L976.0 1774.5M976.0 1323.5L976.0 1328.0M1020.3 1779.0L1020.3 1774.5M1020.3 1323.5L1020.3 1328.0M1051.8 1779.0L1051.8 1774.5M1051.8 1323.5L1051.8 1328.0M1076.2 1779.0L1076.2 1774.5M1076.2 1323.5L1076.2 1328.0M1096.1 1779.0L1096.1 1774.5M1096.1 1323.5L1096.1 1328.0M1112.9 1779.0L1112.9 1774.5M1112.9 1323.5L1112.9 1328.0M1127.5 1779.0L1127.5 1774.5M1127.5 1323.5L1127.5 1328.0M1140.4 1779.0L1140.4 1774.5M1140.4 1323.5L1140.4 1328.0M1151.9 1779.0L1151.9 1770.0M1151.9 1323.5L1151.9 1332.5M1227.6 1779.0L1227.6 1774.5M1227.6 1323.5L1227.6 1328.0M1271.9 1779.0L1271.9 1774.5M1271.9 1323.5L1271.9 1328.0M1303.4 1779.0L1303.4 1774.5M1303.4 1323.5L1303.4 1328.0M1327.8 1779.0L1327.8 1774.5M1327.8 1323.5L1327.8 1328.0M1347.7 1779.0L1347.7 1774.5M1347.7 1323.5L1347.7 1328.0M1364.5 1779.0L1364.5 1774.5M1364.5 1323.5L1364.5 1328.0M1379.1 1779.0L1379.1 1774.5M1379.1 1323.5L1379.1 1328.0M1392.0 1779.0L1392.0 1774.5M1392.0 1323.5L1392.0 1328.0" stroke="#000" stroke-width="2.6" fill="none"/>
<rect x="900.3" y="1323.5" width="503.2" height="455.5" fill="none" stroke="#000" stroke-width="3.2"/>
<path d="M152.5 2392.9L157.0 2392.9M656.0 2392.9L651.5 2392.9M152.5 2373.9L161.5 2373.9M656.0 2373.9L647.0 2373.9M152.5 2248.9L157.0 2248.9M656.0 2248.9L651.5 2248.9M152.5 2175.7L157.0 2175.7M656.0 2175.7L651.5 2175.7M152.5 2123.8L157.0 2123.8M656.0 2123.8L651.5 2123.8M152.5 2083.6L157.0 2083.6M656.0 2083.6L651.5 2083.6M152.5 2050.7L157.0 2050.7M656.0 2050.7L651.5 2050.7M152.5 2022.9L157.0 2022.9M656.0 2022.9L651.5 2022.9M152.5 1998.8L157.0 1998.8M656.0 1998.8L651.5 1998.8M152.5 1977.5L157.0 1977.5M656.0 1977.5L651.5 1977.5M152.5 2414.2L152.5 2405.2M152.5 1958.5L152.5 1967.5M194.5 2414.2L194.5 2409.7M194.5 1958.5L194.5 1963.0M236.4 2414.2L236.4 2405.2M236.4 1958.5L236.4 1967.5M278.4 2414.2L278.4 2409.7M278.4 1958.5L278.4 1963.0M320.3 2414.2L320.3 2405.2M320.3 1958.5L320.3 1967.5M362.3 2414.2L362.3 2409.7M362.3 1958.5L362.3 1963.0M404.2 2414.2L404.2 2405.2M404.2 1958.5L404.2 1967.5M446.2 2414.2L446.2 2409.7M446.2 1958.5L446.2 1963.0M488.2 2414.2L488.2 2405.2M488.2 1958.5L488.2 1967.5M530.1 2414.2L530.1 2409.7M530.1 1958.5L530.1 1963.0M572.1 2414.2L572.1 2405.2M572.1 1958.5L572.1 1967.5M614.0 2414.2L614.0 2409.7M614.0 1958.5L614.0 1963.0M656.0 2414.2L656.0 2405.2M656.0 1958.5L656.0 1967.5" stroke="#000" stroke-width="2.6" fill="none"/>
<rect x="152.5" y="1958.5" width="503.5" height="455.7" fill="none" stroke="#000" stroke-width="3.2"/>
<path d="M900.3 2392.9L904.8 2392.9M1403.5 2392.9L1399.0 2392.9M900.3 2373.9L909.3 2373.9M1403.5 2373.9L1394.5 2373.9M900.3 2248.9L904.8 2248.9M1403.5 2248.9L1399.0 2248.9M900.3 2175.7L904.8 2175.7M1403.5 2175.7L1399.0 2175.7M900.3 2123.8L904.8 2123.8M1403.5 2123.8L1399.0 2123.8M900.3 2083.6L904.8 2083.6M1403.5 2083.6L1399.0 2083.6M900.3 2050.7L904.8 2050.7M1403.5 2050.7L1399.0 2050.7M900.3 2022.9L904.8 2022.9M1403.5 2022.9L1399.0 2022.9M900.3 1998.8L904.8 1998.8M1403.5 1998.8L1399.0 1998.8M900.3 1977.5L904.8 1977.5M1403.5 1977.5L1399.0 1977.5M900.3 2414.2L900.3 2405.2M900.3 1958.5L900.3 1967.5M942.2 2414.2L942.2 2409.7M942.2 1958.5L942.2 1963.0M984.2 2414.2L984.2 2405.2M984.2 1958.5L984.2 1967.5M1026.1 2414.2L1026.1 2409.7M1026.1 1958.5L1026.1 1963.0M1068.0 2414.2L1068.0 2405.2M1068.0 1958.5L1068.0 1967.5M1110.0 2414.2L1110.0 2409.7M1110.0 1958.5L1110.0 1963.0M1151.9 2414.2L1151.9 2405.2M1151.9 1958.5L1151.9 1967.5M1193.8 2414.2L1193.8 2409.7M1193.8 1958.5L1193.8 1963.0M1235.8 2414.2L1235.8 2405.2M1235.8 1958.5L1235.8 1967.5M1277.7 2414.2L1277.7 2409.7M1277.7 1958.5L1277.7 1963.0M1319.6 2414.2L1319.6 2405.2M1319.6 1958.5L1319.6 1967.5M1361.6 2414.2L1361.6 2409.7M1361.6 1958.5L1361.6 1963.0M1403.5 2414.2L1403.5 2405.2M1403.5 1958.5L1403.5 1967.5" stroke="#000" stroke-width="2.6" fill="none"/>
<rect x="900.3" y="1958.5" width="503.2" height="455.7" fill="none" stroke="#000" stroke-width="3.2"/>
<text x="376.20" y="37.20" font-size="44.48" font-weight="bold" textLength="112.92" lengthAdjust="spacingAndGlyphs" fill="#fff" stroke="#006838" stroke-width="1.00">U<tspan font-size="38.69">pleg</tspan></text>
<text x="201.89" y="40.00" font-size="36.55" font-weight="bold" textLength="31.73" lengthAdjust="spacingAndGlyphs" fill="#000">a.</text>
<text x="46.65" y="77.60" font-size="45.35" font-weight="normal" textLength="100.72" lengthAdjust="spacingAndGlyphs" fill="#000" stroke="#fff" stroke-width="0.60">1000</text>
<text x="70.05" y="480.50" font-size="45.78" font-weight="normal" textLength="75.52" lengthAdjust="spacingAndGlyphs" fill="#000" stroke="#fff" stroke-width="0.60">100</text>
<text x="-0.09" y="0.00" font-size="48.98" font-weight="normal" textLength="233.03" lengthAdjust="spacingAndGlyphs" fill="#000" stroke="#fff" stroke-width="0.60" transform="translate(36.70,400.00) rotate(-90)">A<tspan font-size="42.61">ltitude</tspan> (<tspan font-size="42.61">km</tspan>)</text>
<text x="1096.67" y="36.70" font-size="43.46" font-weight="bold" textLength="168.26" lengthAdjust="spacingAndGlyphs" fill="#fff" stroke="#006838" stroke-width="1.00">D<tspan font-size="37.81">ownleg</tspan></text>
<text x="948.35" y="40.00" font-size="36.55" font-weight="bold" textLength="33.01" lengthAdjust="spacingAndGlyphs" fill="#000">b.</text>
<text x="790.45" y="78.80" font-size="46.37" font-weight="normal" textLength="100.72" lengthAdjust="spacingAndGlyphs" fill="#000" stroke="#fff" stroke-width="0.60">1000</text>
<text x="814.18" y="481.80" font-size="46.22" font-weight="normal" textLength="74.87" lengthAdjust="spacingAndGlyphs" fill="#000" stroke="#fff" stroke-width="0.60">100</text>
<text x="-0.09" y="0.00" font-size="49.13" font-weight="normal" textLength="231.61" lengthAdjust="spacingAndGlyphs" fill="#000" stroke="#fff" stroke-width="0.60" transform="translate(793.60,398.10) rotate(-90)">A<tspan font-size="42.74">ltitude</tspan> (<tspan font-size="42.74">km</tspan>)</text>
<text x="376.20" y="678.20" font-size="44.48" font-weight="bold" textLength="112.92" lengthAdjust="spacingAndGlyphs" fill="#fff" stroke="#006838" stroke-width="1.00">U<tspan font-size="38.69">pleg</tspan></text>
<text x="201.49" y="681.00" font-size="36.55" font-weight="bold" textLength="32.16" lengthAdjust="spacingAndGlyphs" fill="#000">c.</text>
<text x="47.95" y="717.60" font-size="46.95" font-weight="normal" textLength="100.72" lengthAdjust="spacingAndGlyphs" fill="#000" stroke="#fff" stroke-width="0.60">1000</text>
<text x="71.68" y="1120.40" font-size="46.80" font-weight="normal" textLength="74.98" lengthAdjust="spacingAndGlyphs" fill="#000" stroke="#fff" stroke-width="0.60">100</text>
<text x="-0.09" y="0.00" font-size="48.26" font-weight="normal" textLength="233.84" lengthAdjust="spacingAndGlyphs" fill="#000" stroke="#fff" stroke-width="0.60" transform="translate(37.50,1040.70) rotate(-90)">A<tspan font-size="41.98">ltitude</tspan> (<tspan font-size="41.98">km</tspan>)</text>
<text x="1096.67" y="677.70" font-size="43.46" font-weight="bold" textLength="168.26" lengthAdjust="spacingAndGlyphs" fill="#fff" stroke="#006838" stroke-width="1.00">D<tspan font-size="37.81">ownleg</tspan></text>
<text x="949.33" y="681.00" font-size="36.55" font-weight="bold" textLength="31.95" lengthAdjust="spacingAndGlyphs" fill="#000">d.</text>
<text x="791.65" y="718.70" font-size="46.95" font-weight="normal" textLength="100.72" lengthAdjust="spacingAndGlyphs" fill="#000" stroke="#fff" stroke-width="0.60">1000</text>
<text x="815.80" y="1121.90" font-size="46.80" font-weight="normal" textLength="74.55" lengthAdjust="spacingAndGlyphs" fill="#000" stroke="#fff" stroke-width="0.60">100</text>
<text x="-0.09" y="0.00" font-size="49.13" font-weight="normal" textLength="237.18" lengthAdjust="spacingAndGlyphs" fill="#000" stroke="#fff" stroke-width="0.60" transform="translate(794.70,1043.00) rotate(-90)">A<tspan font-size="42.74">ltitude</tspan> (<tspan font-size="42.74">km</tspan>)</text>
<text x="376.20" y="1311.20" font-size="44.48" font-weight="bold" textLength="112.92" lengthAdjust="spacingAndGlyphs" fill="#fff" stroke="#006838" stroke-width="1.00">U<tspan font-size="38.69">pleg</tspan></text>
<text x="201.49" y="1314.00" font-size="36.55" font-weight="bold" textLength="32.16" lengthAdjust="spacingAndGlyphs" fill="#000">e.</text>
<text x="44.38" y="1351.60" font-size="46.80" font-weight="normal" textLength="99.77" lengthAdjust="spacingAndGlyphs" fill="#000" stroke="#fff" stroke-width="0.60">1000</text>
<text x="68.00" y="1754.90" font-size="47.53" font-weight="normal" textLength="74.55" lengthAdjust="spacingAndGlyphs" fill="#000" stroke="#fff" stroke-width="0.60">100</text>
<text x="-0.09" y="0.00" font-size="47.46" font-weight="normal" textLength="233.33" lengthAdjust="spacingAndGlyphs" fill="#000" stroke="#fff" stroke-width="0.60" transform="translate(33.75,1674.70) rotate(-90)">A<tspan font-size="41.29">ltitude</tspan> (<tspan font-size="41.29">km</tspan>)</text>
<text x="1096.67" y="1310.70" font-size="43.46" font-weight="bold" textLength="168.26" lengthAdjust="spacingAndGlyphs" fill="#fff" stroke="#006838" stroke-width="1.00">D<tspan font-size="37.81">ownleg</tspan></text>
<text x="949.89" y="1314.00" font-size="36.55" font-weight="bold" textLength="32.58" lengthAdjust="spacingAndGlyphs" fill="#000">f.</text>
<text x="787.54" y="1352.90" font-size="46.95" font-weight="normal" textLength="101.14" lengthAdjust="spacingAndGlyphs" fill="#000" stroke="#fff" stroke-width="0.60">1000</text>
<text x="811.68" y="1756.10" font-size="46.80" font-weight="normal" textLength="74.98" lengthAdjust="spacingAndGlyphs" fill="#000" stroke="#fff" stroke-width="0.60">100</text>
<text x="-0.09" y="0.00" font-size="49.13" font-weight="normal" textLength="236.07" lengthAdjust="spacingAndGlyphs" fill="#000" stroke="#fff" stroke-width="0.60" transform="translate(790.90,1676.30) rotate(-90)">A<tspan font-size="42.74">ltitude</tspan> (<tspan font-size="42.74">km</tspan>)</text>
<text x="376.20" y="1946.20" font-size="44.48" font-weight="bold" textLength="112.92" lengthAdjust="spacingAndGlyphs" fill="#fff" stroke="#006838" stroke-width="1.00">U<tspan font-size="38.69">pleg</tspan></text>
<text x="201.65" y="1940.70" font-size="35.04" font-weight="bold" textLength="20.04" lengthAdjust="spacingAndGlyphs" fill="#000">g</text>
<text x="223.60" y="1940.70" font-size="30.82" font-weight="bold" textLength="9.84" lengthAdjust="spacingAndGlyphs" fill="#000">.</text>
<text x="46.77" y="1989.10" font-size="46.95" font-weight="normal" textLength="100.30" lengthAdjust="spacingAndGlyphs" fill="#000" stroke="#fff" stroke-width="0.60">1000</text>
<text x="70.50" y="2391.90" font-size="46.80" font-weight="normal" textLength="74.55" lengthAdjust="spacingAndGlyphs" fill="#000" stroke="#fff" stroke-width="0.60">100</text>
<text x="-0.09" y="0.00" font-size="48.33" font-weight="normal" textLength="233.33" lengthAdjust="spacingAndGlyphs" fill="#000" stroke="#fff" stroke-width="0.60" transform="translate(37.00,2311.80) rotate(-90)">A<tspan font-size="42.05">ltitude</tspan> (<tspan font-size="42.05">km</tspan>)</text>
<text x="1096.67" y="1945.70" font-size="43.46" font-weight="bold" textLength="168.26" lengthAdjust="spacingAndGlyphs" fill="#fff" stroke="#006838" stroke-width="1.00">D<tspan font-size="37.81">ownleg</tspan></text>
<text x="948.19" y="1949.00" font-size="36.55" font-weight="bold" textLength="33.18" lengthAdjust="spacingAndGlyphs" fill="#000">h.</text>
<text x="790.04" y="1989.90" font-size="46.22" font-weight="normal" textLength="101.14" lengthAdjust="spacingAndGlyphs" fill="#000" stroke="#fff" stroke-width="0.60">1000</text>
<text x="814.18" y="2393.20" font-size="46.95" font-weight="normal" textLength="74.87" lengthAdjust="spacingAndGlyphs" fill="#000" stroke="#fff" stroke-width="0.60">100</text>
<text x="-0.09" y="0.00" font-size="48.40" font-weight="normal" textLength="236.07" lengthAdjust="spacingAndGlyphs" fill="#000" stroke="#fff" stroke-width="0.60" transform="translate(793.10,2312.90) rotate(-90)">A<tspan font-size="42.11">ltitude</tspan> (<tspan font-size="42.11">km</tspan>)</text>
<text x="-2.85" y="0.00" font-size="43.60" font-weight="bold" textLength="217.65" lengthAdjust="spacingAndGlyphs" fill="#fff" transform="translate(667.80,140.60) rotate(90)">D<tspan font-size="37.94">ensity</tspan> (<tspan font-size="37.94">cm</tspan></text>
<rect x="681.2" y="362" width="2.6" height="6.7" fill="#fff"/>
<text x="-1.12" y="0.00" font-size="32.70" font-weight="normal" textLength="16.30" lengthAdjust="spacingAndGlyphs" fill="#fff" transform="translate(675.20,372.10) rotate(90)">3</text>
<text x="-0.03" y="0.00" font-size="43.60" font-weight="bold" textLength="10.62" lengthAdjust="spacingAndGlyphs" fill="#fff" transform="translate(667.80,393.10) rotate(90)">)</text>
<text x="-2.84" y="0.00" font-size="42.88" font-weight="bold" textLength="216.94" lengthAdjust="spacingAndGlyphs" fill="#fff" transform="translate(1419.10,142.80) rotate(90)">D<tspan font-size="37.30">ensity</tspan> (<tspan font-size="37.30">cm</tspan></text>
<rect x="1432.3" y="364.2" width="2.6" height="6.1" fill="#fff"/>
<text x="-1.09" y="0.00" font-size="32.99" font-weight="normal" textLength="15.95" lengthAdjust="spacingAndGlyphs" fill="#fff" transform="translate(1426.00,374.20) rotate(90)">3</text>
<text x="-0.03" y="0.00" font-size="42.88" font-weight="bold" textLength="9.44" lengthAdjust="spacingAndGlyphs" fill="#fff" transform="translate(1419.10,395.90) rotate(90)">)</text>
<text x="-0.49" y="0.00" font-size="43.75" font-weight="bold" textLength="305.76" lengthAdjust="spacingAndGlyphs" fill="#fff" transform="translate(666.40,755.10) rotate(90)">T<tspan font-size="38.06">emperature</tspan> (K)</text>
<text x="-0.49" y="0.00" font-size="43.75" font-weight="bold" textLength="305.86" lengthAdjust="spacingAndGlyphs" fill="#fff" transform="translate(1414.40,757.00) rotate(90)">T<tspan font-size="38.06">emperature</tspan> (K)</text>
<text x="-0.49" y="0.00" font-size="43.75" font-weight="bold" textLength="305.86" lengthAdjust="spacingAndGlyphs" fill="#fff" transform="translate(667.70,1392.00) rotate(90)">T<tspan font-size="38.06">emperature</tspan> (K)</text>
<text x="-0.49" y="0.00" font-size="43.90" font-weight="bold" textLength="306.47" lengthAdjust="spacingAndGlyphs" fill="#fff" transform="translate(1416.30,1394.00) rotate(90)">T<tspan font-size="38.19">emperature</tspan> (K)</text>
<text x="-0.29" y="0.00" font-size="44.77" font-weight="bold" textLength="272.82" lengthAdjust="spacingAndGlyphs" fill="#fff" transform="translate(664.40,2045.40) rotate(90)">V<tspan font-size="38.95">elocity</tspan> (<tspan font-size="38.95">km</tspan>/<tspan font-size="38.95">s</tspan>)</text>
<text x="-0.29" y="0.00" font-size="45.64" font-weight="bold" textLength="275.44" lengthAdjust="spacingAndGlyphs" fill="#fff" transform="translate(1415.70,2050.60) rotate(90)">V<tspan font-size="39.71">elocity</tspan> (<tspan font-size="39.71">km</tspan>/<tspan font-size="39.71">s</tspan>)</text>
<text x="124.52" y="564.00" font-size="47.67" font-weight="normal" textLength="49.31" lengthAdjust="spacingAndGlyphs" fill="#000" stroke="#fff" stroke-width="0.60">10</text>
<text x="170.04" y="538.50" font-size="31.25" font-weight="normal" textLength="17.01" lengthAdjust="spacingAndGlyphs" fill="#000" stroke="#fff" stroke-width="0.60">3</text>
<text x="297.66" y="564.00" font-size="47.67" font-weight="normal" textLength="50.20" lengthAdjust="spacingAndGlyphs" fill="#000" stroke="#fff" stroke-width="0.60">10</text>
<text x="346.34" y="538.50" font-size="31.25" font-weight="normal" textLength="15.89" lengthAdjust="spacingAndGlyphs" fill="#000" stroke="#fff" stroke-width="0.60">4</text>
<text x="460.85" y="564.00" font-size="47.67" font-weight="normal" textLength="50.31" lengthAdjust="spacingAndGlyphs" fill="#000" stroke="#fff" stroke-width="0.60">10</text>
<text x="508.18" y="538.50" font-size="31.25" font-weight="normal" textLength="16.89" lengthAdjust="spacingAndGlyphs" fill="#000" stroke="#fff" stroke-width="0.60">5</text>
<text x="627.37" y="564.00" font-size="47.67" font-weight="normal" textLength="48.64" lengthAdjust="spacingAndGlyphs" fill="#000" stroke="#fff" stroke-width="0.60">10</text>
<text x="672.68" y="538.50" font-size="31.25" font-weight="normal" textLength="17.72" lengthAdjust="spacingAndGlyphs" fill="#000" stroke="#fff" stroke-width="0.60">6</text>
<text x="871.12" y="562.00" font-size="47.67" font-weight="normal" textLength="49.31" lengthAdjust="spacingAndGlyphs" fill="#000" stroke="#fff" stroke-width="0.60">10</text>
<text x="916.64" y="536.50" font-size="31.25" font-weight="normal" textLength="17.01" lengthAdjust="spacingAndGlyphs" fill="#000" stroke="#fff" stroke-width="0.60">3</text>
<text x="1044.26" y="562.00" font-size="47.67" font-weight="normal" textLength="50.20" lengthAdjust="spacingAndGlyphs" fill="#000" stroke="#fff" stroke-width="0.60">10</text>
<text x="1092.94" y="536.50" font-size="31.25" font-weight="normal" textLength="15.89" lengthAdjust="spacingAndGlyphs" fill="#000" stroke="#fff" stroke-width="0.60">4</text>
<text x="1207.45" y="562.00" font-size="47.67" font-weight="normal" textLength="50.31" lengthAdjust="spacingAndGlyphs" fill="#000" stroke="#fff" stroke-width="0.60">10</text>
<text x="1254.78" y="536.50" font-size="31.25" font-weight="normal" textLength="16.89" lengthAdjust="spacingAndGlyphs" fill="#000" stroke="#fff" stroke-width="0.60">5</text>
<text x="1373.97" y="562.00" font-size="47.67" font-weight="normal" textLength="48.64" lengthAdjust="spacingAndGlyphs" fill="#000" stroke="#fff" stroke-width="0.60">10</text>
<text x="1419.28" y="536.50" font-size="31.25" font-weight="normal" textLength="17.72" lengthAdjust="spacingAndGlyphs" fill="#000" stroke="#fff" stroke-width="0.60">6</text>
<text x="190.59" y="611.30" font-size="44.48" font-weight="normal" textLength="363.41" lengthAdjust="spacingAndGlyphs" fill="#000" stroke="#fff" stroke-width="0.60">P<tspan font-size="38.69">lasma</tspan> D<tspan font-size="38.69">ensity</tspan> (<tspan font-size="38.69">cm</tspan></text>
<text x="942.09" y="612.10" font-size="44.48" font-weight="normal" textLength="363.41" lengthAdjust="spacingAndGlyphs" fill="#000" stroke="#fff" stroke-width="0.60">P<tspan font-size="38.69">lasma</tspan> D<tspan font-size="38.69">ensity</tspan> (<tspan font-size="38.69">cm</tspan></text>
<rect x="552.0" y="590.1" width="6.5" height="2.4" fill="#000"/>
<text x="561.08" y="598.20" font-size="32.56" font-weight="normal" textLength="16.42" lengthAdjust="spacingAndGlyphs" fill="#000" stroke="#fff" stroke-width="0.60">3</text>
<text x="580.13" y="611.30" font-size="44.48" font-weight="normal" textLength="9.42" lengthAdjust="spacingAndGlyphs" fill="#000" stroke="#fff" stroke-width="0.60">)</text>
<rect x="1304.0" y="590.8" width="6.5" height="2.4" fill="#000"/>
<text x="1313.08" y="598.90" font-size="32.56" font-weight="normal" textLength="16.42" lengthAdjust="spacingAndGlyphs" fill="#000" stroke="#fff" stroke-width="0.60">3</text>
<text x="1332.13" y="612.00" font-size="44.48" font-weight="normal" textLength="9.42" lengthAdjust="spacingAndGlyphs" fill="#000" stroke="#fff" stroke-width="0.60">)</text>
<text x="112.86" y="1193.50" font-size="46.37" font-weight="normal" textLength="75.30" lengthAdjust="spacingAndGlyphs" fill="#000" stroke="#fff" stroke-width="0.60">100</text>
<text x="351.84" y="1193.50" font-size="46.37" font-weight="normal" textLength="101.14" lengthAdjust="spacingAndGlyphs" fill="#000" stroke="#fff" stroke-width="0.60">1000</text>
<text x="589.60" y="1193.50" font-size="46.37" font-weight="normal" textLength="127.90" lengthAdjust="spacingAndGlyphs" fill="#000" stroke="#fff" stroke-width="0.60">10000</text>
<text x="161.63" y="1241.40" font-size="45.78" font-weight="normal" textLength="457.65" lengthAdjust="spacingAndGlyphs" fill="#000" stroke="#fff" stroke-width="0.60">E<tspan font-size="39.83">lectron</tspan> T<tspan font-size="39.83">emperature</tspan> (K)</text>
<text x="117.65" y="1825.60" font-size="46.51" font-weight="normal" textLength="75.52" lengthAdjust="spacingAndGlyphs" fill="#000" stroke="#fff" stroke-width="0.60">100</text>
<text x="355.93" y="1825.60" font-size="46.51" font-weight="normal" textLength="101.35" lengthAdjust="spacingAndGlyphs" fill="#000" stroke="#fff" stroke-width="0.60">1000</text>
<text x="594.20" y="1825.60" font-size="46.51" font-weight="normal" textLength="127.90" lengthAdjust="spacingAndGlyphs" fill="#000" stroke="#fff" stroke-width="0.60">10000</text>
<text x="211.46" y="1873.90" font-size="46.51" font-weight="normal" textLength="367.93" lengthAdjust="spacingAndGlyphs" fill="#000" stroke="#fff" stroke-width="0.60">I<tspan font-size="40.47">on</tspan> T<tspan font-size="40.47">emperature</tspan> (K)</text>
<text x="862.86" y="1193.50" font-size="46.37" font-weight="normal" textLength="75.30" lengthAdjust="spacingAndGlyphs" fill="#000" stroke="#fff" stroke-width="0.60">100</text>
<text x="1101.84" y="1193.50" font-size="46.37" font-weight="normal" textLength="101.14" lengthAdjust="spacingAndGlyphs" fill="#000" stroke="#fff" stroke-width="0.60">1000</text>
<text x="1339.60" y="1193.50" font-size="46.37" font-weight="normal" textLength="127.90" lengthAdjust="spacingAndGlyphs" fill="#000" stroke="#fff" stroke-width="0.60">10000</text>
<text x="911.63" y="1241.40" font-size="45.78" font-weight="normal" textLength="457.65" lengthAdjust="spacingAndGlyphs" fill="#000" stroke="#fff" stroke-width="0.60">E<tspan font-size="39.83">lectron</tspan> T<tspan font-size="39.83">emperature</tspan> (K)</text>
<text x="867.65" y="1825.60" font-size="46.51" font-weight="normal" textLength="75.52" lengthAdjust="spacingAndGlyphs" fill="#000" stroke="#fff" stroke-width="0.60">100</text>
<text x="1105.93" y="1825.60" font-size="46.51" font-weight="normal" textLength="101.35" lengthAdjust="spacingAndGlyphs" fill="#000" stroke="#fff" stroke-width="0.60">1000</text>
<text x="1344.20" y="1825.60" font-size="46.51" font-weight="normal" textLength="127.90" lengthAdjust="spacingAndGlyphs" fill="#000" stroke="#fff" stroke-width="0.60">10000</text>
<text x="961.46" y="1873.90" font-size="46.51" font-weight="normal" textLength="367.93" lengthAdjust="spacingAndGlyphs" fill="#000" stroke="#fff" stroke-width="0.60">I<tspan font-size="40.47">on</tspan> T<tspan font-size="40.47">emperature</tspan> (K)</text>
<text x="107.76" y="2462.90" font-size="47.53" font-weight="normal" textLength="79.16" lengthAdjust="spacingAndGlyphs" fill="#000" stroke="#fff" stroke-width="0.60">-0.6</text>
<text x="193.81" y="2462.90" font-size="47.53" font-weight="normal" textLength="77.31" lengthAdjust="spacingAndGlyphs" fill="#000" stroke="#fff" stroke-width="0.60">-0.4</text>
<text x="278.18" y="2462.90" font-size="47.53" font-weight="normal" textLength="78.30" lengthAdjust="spacingAndGlyphs" fill="#000" stroke="#fff" stroke-width="0.60">-0.2</text>
<text x="391.72" y="2462.90" font-size="47.53" font-weight="normal" textLength="25.36" lengthAdjust="spacingAndGlyphs" fill="#000" stroke="#fff" stroke-width="0.60">0</text>
<text x="457.02" y="2462.90" font-size="47.53" font-weight="normal" textLength="63.48" lengthAdjust="spacingAndGlyphs" fill="#000" stroke="#fff" stroke-width="0.60">0.2</text>
<text x="540.47" y="2462.90" font-size="47.53" font-weight="normal" textLength="61.74" lengthAdjust="spacingAndGlyphs" fill="#000" stroke="#fff" stroke-width="0.60">0.4</text>
<text x="621.99" y="2462.90" font-size="47.53" font-weight="normal" textLength="64.34" lengthAdjust="spacingAndGlyphs" fill="#000" stroke="#fff" stroke-width="0.60">0.6</text>
<text x="230.78" y="2511.90" font-size="45.93" font-weight="normal" textLength="341.45" lengthAdjust="spacingAndGlyphs" fill="#000" stroke="#fff" stroke-width="0.60">I<tspan font-size="39.96">on</tspan> V<tspan font-size="39.96">elocity</tspan> (<tspan font-size="39.96">km</tspan>/<tspan font-size="39.96">s</tspan>)</text>
<text x="856.66" y="2460.70" font-size="47.53" font-weight="normal" textLength="79.16" lengthAdjust="spacingAndGlyphs" fill="#000" stroke="#fff" stroke-width="0.60">-0.6</text>
<text x="942.71" y="2460.70" font-size="47.53" font-weight="normal" textLength="77.31" lengthAdjust="spacingAndGlyphs" fill="#000" stroke="#fff" stroke-width="0.60">-0.4</text>
<text x="1027.08" y="2460.70" font-size="47.53" font-weight="normal" textLength="78.30" lengthAdjust="spacingAndGlyphs" fill="#000" stroke="#fff" stroke-width="0.60">-0.2</text>
<text x="1140.62" y="2460.70" font-size="47.53" font-weight="normal" textLength="25.36" lengthAdjust="spacingAndGlyphs" fill="#000" stroke="#fff" stroke-width="0.60">0</text>
<text x="1205.92" y="2460.70" font-size="47.53" font-weight="normal" textLength="63.48" lengthAdjust="spacingAndGlyphs" fill="#000" stroke="#fff" stroke-width="0.60">0.2</text>
<text x="1289.37" y="2460.70" font-size="47.53" font-weight="normal" textLength="61.74" lengthAdjust="spacingAndGlyphs" fill="#000" stroke="#fff" stroke-width="0.60">0.4</text>
<text x="1370.89" y="2460.70" font-size="47.53" font-weight="normal" textLength="64.34" lengthAdjust="spacingAndGlyphs" fill="#000" stroke="#fff" stroke-width="0.60">0.6</text>
<text x="982.88" y="2509.70" font-size="45.93" font-weight="normal" textLength="341.45" lengthAdjust="spacingAndGlyphs" fill="#000" stroke="#fff" stroke-width="0.60">I<tspan font-size="39.96">on</tspan> V<tspan font-size="39.96">elocity</tspan> (<tspan font-size="39.96">km</tspan>/<tspan font-size="39.96">s</tspan>)</text>
<path d="M175.7 105.7H207.9" stroke="#000" stroke-width="4.5"/>
<path d="M175.7 164.0H207.9" stroke="#F7B862" stroke-width="4.5"/>
<text x="221.85" y="121.40" font-size="42.59" font-weight="bold" textLength="134.24" lengthAdjust="spacingAndGlyphs" fill="#000">EISCAT</text>
<text x="223.36" y="176.00" font-size="43.02" font-weight="bold" textLength="63.46" lengthAdjust="spacingAndGlyphs" fill="#000">SLP</text>
<path d="M924.3 106.4H956.5" stroke="#000" stroke-width="4.5"/>
<path d="M924.3 164.7H956.5" stroke="#F7B862" stroke-width="4.5"/>
<text x="970.45" y="122.10" font-size="42.59" font-weight="bold" textLength="134.24" lengthAdjust="spacingAndGlyphs" fill="#000">EISCAT</text>
<text x="971.96" y="176.70" font-size="43.02" font-weight="bold" textLength="63.46" lengthAdjust="spacingAndGlyphs" fill="#000">SLP</text>
</svg></body></html>
